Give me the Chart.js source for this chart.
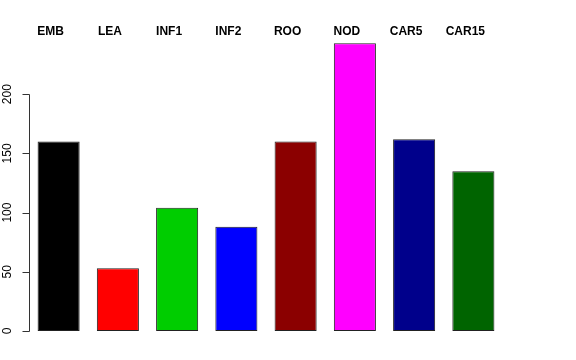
<!DOCTYPE html>
<html>
<head>
<meta charset="utf-8">
<style>
html,body{margin:0;padding:0;background:#fff;}
#wrap{width:576px;height:360px;}
</style>
<script src="https://cdn.jsdelivr.net/npm/chart.js@4/dist/chart.umd.min.js"></script>
</head>
<body>
<div id="wrap"><canvas id="c" width="576" height="360"></canvas></div>
<script>
const categories = ["EMB","LEA","INF1","INF2","ROO","NOD","CAR5","CAR15"];
const values = [160, 53, 104, 88, 160, 243, 162, 135];
const barColors = ["#000000","#FF0000","#00CD00","#0000FF","#8B0000","#FF00FF","#00008B","#006400"];
const yTicks = [0, 50, 100, 150, 200];

const rAxis = {
  id: 'rAxis',
  afterDraw(chart) {
    const ctx = chart.ctx;
    const y = chart.scales.y;
    const x0 = Math.round(chart.chartArea.left) + 0.5;
    ctx.save();
    ctx.strokeStyle = '#333';
    ctx.lineWidth = 1;
    ctx.beginPath();
    ctx.moveTo(x0, Math.round(y.getPixelForValue(yTicks[0])) + 0.5);
    ctx.lineTo(x0, Math.round(y.getPixelForValue(yTicks[yTicks.length - 1])) + 0.5);
    yTicks.forEach(v => {
      const py = Math.round(y.getPixelForValue(v)) + 0.5;
      ctx.moveTo(x0, py);
      ctx.lineTo(x0 - 7, py);
    });
    ctx.stroke();
    ctx.fillStyle = '#000';
    ctx.font = '12px "Liberation Sans", Arial, sans-serif';
    ctx.textAlign = 'center';
    ctx.textBaseline = 'alphabetic';
    yTicks.forEach(v => {
      const py = y.getPixelForValue(v);
      ctx.save();
      ctx.translate(10.5, py);
      ctx.rotate(-Math.PI / 2);
      ctx.fillText(String(v), 0, 0);
      ctx.restore();
    });
    ctx.restore();
  }
};

new Chart(document.getElementById('c'), {
  type: 'bar',
  data: {
    labels: categories,
    datasets: [{
      data: values,
      backgroundColor: barColors,
      borderColor: '#222',
      borderWidth: 1,
      borderSkipped: false,
      barPercentage: 0.71,
      categoryPercentage: 1.0
    }]
  },
  options: {
    responsive: false,
    animation: false,
    events: [],
    layout: { padding: { left: 0, right: 73, top: 5, bottom: 29 } },
    plugins: { legend: { display: false }, tooltip: { enabled: false } },
    scales: {
      x: {
        position: 'top',
        grid: { display: false, drawTicks: false },
        border: { display: false },
        ticks: {
          color: '#000',
          font: { family: '"Liberation Sans", Arial, sans-serif', size: 12, weight: 'bold' },
          labelOffset: -8,
          padding: -4,
          maxRotation: 0,
          minRotation: 0
        },
        afterFit(scale) {
          scale.height = 30;
          scale._computeLabelArea = () => undefined;
        }
      },
      y: {
        min: 0,
        max: 250,
        grid: { display: false, drawTicks: false },
        border: { display: false },
        ticks: { display: false },
        afterFit(scale) { scale.width = 29; }
      }
    }
  },
  plugins: [rAxis]
});
</script>
</body>
</html>
